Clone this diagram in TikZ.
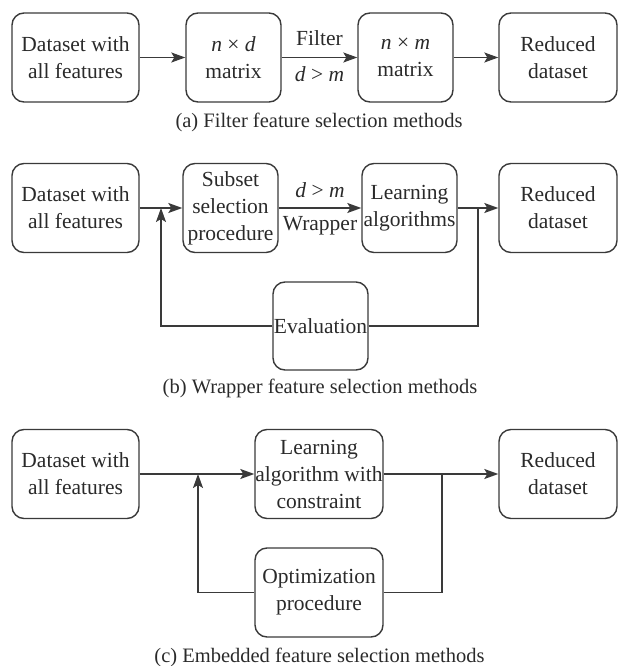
\documentclass[tikz,border=0pt]{standalone}
\usepackage{fontspec}
\setmainfont{Liberation Serif}
\usetikzlibrary{arrows.meta}
\definecolor{ink}{HTML}{3A3A3A}
\definecolor{txt}{HTML}{2A2A2A}
\tikzset{
  box/.style={draw=ink, line width=1.4pt, rounded corners=12pt, align=center,
    inner xsep=0pt, inner ysep=0pt, minimum height=89pt, text=txt,
    font=\fontsize{21.5}{27}\selectfont},
  link/.style={draw=ink, line width=1.4pt},
  arr/.style={link, -{Stealth[length=14pt,width=10pt,inset=3pt]}},
  captiontext/.style={text=txt, inner sep=0pt, font=\fontsize{20.5}{24}\selectfont},
  lbl/.style={text=txt, inner sep=0pt, font=\fontsize{21.5}{24}\selectfont},
}
\begin{document}
\begin{tikzpicture}[x=1pt,y=-1pt]
\useasboundingbox (0,0) rectangle (619,666);

% (a) filter methods
\node[box, minimum width=127pt] (a1) at (75.5,57.5) {Dataset with\\all features};
\node[box, minimum width=95pt]  (a2) at (233.5,57.5) {\textit{n} × \textit{d}\\matrix};
\node[box, minimum width=95pt]  (a3) at (405.5,57.5) {\textit{n} × \textit{m}\\matrix};
\node[box, minimum width=118pt] (a4) at (558,57.5) {Reduced\\dataset};
\draw[arr] (a1) -- (a2);
\draw[arr] (a2) -- (a3);
\draw[arr] (a3) -- (a4);
\node[lbl] (afilter) at (319.5,38) {Filter};
\node[lbl] (acond) at (319.5,74) {\textit{d} > \textit{m}};
\node[captiontext] (acap) at (319,122) {(a) Filter feature selection methods};

% (b) wrapper methods
\node[box, minimum width=127pt] (b1) at (75.5,208) {Dataset with\\all features};
\node[box, minimum width=95pt]  (b2) at (230.5,208) {Subset\\selection\\procedure};
\node[box, minimum width=95pt]  (b3) at (409.5,208) {Learning\\algorithms};
\node[box, minimum width=118pt] (b4) at (558,208) {Reduced\\dataset};
\node[box, minimum width=95pt, minimum height=88pt] (bev) at (320.5,326) {Evaluation};
\draw[arr] (b1) -- (b2);
\draw[arr] (b2) -- (b3);
\draw[arr] (b3) -- (b4);
\coordinate (bjl) at (161,208);
\coordinate (bjr) at (478,208);
\draw[arr] (bev.west) -| (bjl);
\draw[link] (bev.east) -| (bjr);
\node[lbl] (bcond) at (320,190) {\textit{d} > \textit{m}};
\node[lbl] (bwrap) at (320,226) {Wrapper};
\node[captiontext] (bcap) at (320,388) {(b) Wrapper feature selection methods};

% (c) embedded methods
\node[box, minimum width=127pt] (c1) at (75.5,474) {Dataset with\\all features};
\node[box, minimum width=128pt] (c2) at (319,474) {Learning\\algorithm with\\constraint};
\node[box, minimum width=118pt] (c4) at (558,474) {Reduced\\dataset};
\node[box, minimum width=128pt] (c3) at (319,592.5) {Optimization\\procedure};
\draw[arr] (c1) -- (c2);
\draw[arr] (c2) -- (c4);
\coordinate (cjl) at (198,474);
\coordinate (cjr) at (442,474);
\draw[arr] (c3.west) -| (cjl);
\draw[link] (c3.east) -| (cjr);
\node[captiontext] (ccap) at (319.5,657) {(c) Embedded feature selection methods};
\end{tikzpicture}
\end{document}
